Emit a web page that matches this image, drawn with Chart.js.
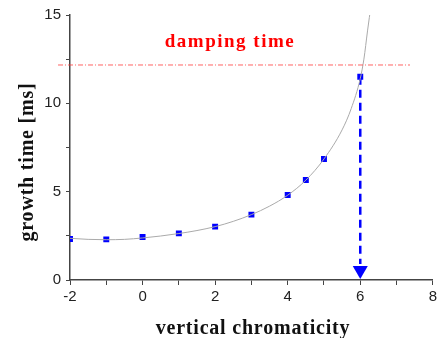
<!DOCTYPE html>
<html>
<head>
<meta charset="utf-8">
<script src="https://cdn.jsdelivr.net/npm/chart.js@4.4.1/dist/chart.umd.min.js"></script>
<style>
  html, body { margin:0; padding:0; background:#fff; }
  #wrap { width:440px; height:338px; position:relative; }
</style>
</head>
<body>
<div id="wrap"><canvas id="c"></canvas></div>
<script>
/* measured points */
const chromaticity = [-2, -1, 0, 1, 2, 3, 4, 4.5, 5, 6];
const growthTime   = [2.32, 2.30, 2.43, 2.64, 3.02, 3.70, 4.81, 5.66, 6.85, 11.5];

/* fit curve */
const fitX = [-2, -1.5, -1, -0.5, 0, 0.5, 1, 1.5, 2, 2.5, 3, 3.5, 4, 4.5, 5, 5.5, 5.75, 6, 6.1, 6.2, 6.3];
const fitY = [2.36, 2.30, 2.28, 2.30, 2.38, 2.49, 2.63, 2.80, 3.02, 3.32, 3.70, 4.18, 4.80, 5.65, 6.85, 8.5, 9.7, 11.4, 12.5, 14.1, 15.6];

/* damping time level and arrow */
const dampX = [-2.33, 7.37];
const dampLevel = 12.17;
const arrowX = 6;
const arrowY = [11.5, 0.9];
const arrowHeadY = 0.55;

const xTicks = [-2, 0, 2, 4, 6, 8];
const yTicks = [0, 5, 10, 15];

const SERIF = "'Liberation Serif', 'Times New Roman', serif";
const SANS = "'Liberation Sans', Arial, sans-serif";
const AXIS = "#444";

const pts = (xs, ys) => xs.map((x, i) => ({ x, y: ys[i] }));

// titles drawn by hand (letter spacing)
const titles = {
  id: "titles",
  afterDraw(chart) {
    const ctx = chart.ctx;
    ctx.save();
    ctx.textAlign = "center";
    ctx.textBaseline = "alphabetic";

    ctx.fillStyle = "#ff0000";
    ctx.font = "bold 19px " + SERIF;
    ctx.letterSpacing = "1.5px";
    ctx.fillText("damping time", 230, 47);

    ctx.fillStyle = "#111";
    ctx.font = "bold 20px " + SERIF;
    ctx.letterSpacing = "0.8px";
    ctx.fillText("vertical chromaticity", 253, 334);

    ctx.translate(33, 162);
    ctx.rotate(-Math.PI / 2);
    ctx.fillText("growth time [ms]", 0, 0);
    ctx.restore();
  }
};

new Chart(document.getElementById("c"), {
  type: "scatter",
  data: {
    datasets: [
      {
        label: "damping",
        data: pts(dampX, dampX.map(() => dampLevel)),
        showLine: true,
        borderColor: "rgba(255,60,60,0.8)",
        borderWidth: 1,
        borderDash: [5, 2, 1, 2],
        pointRadius: 0,
        clip: false
      },
      {
        label: "fit",
        data: pts(fitX, fitY),
        showLine: true,
        borderColor: "#aaaaaa",
        borderWidth: 1,
        cubicInterpolationMode: "monotone",
        pointRadius: 0
      },
      {
        label: "arrow",
        data: pts([arrowX, arrowX], arrowY),
        showLine: true,
        borderColor: "#0000ff",
        borderWidth: 2.5,
        borderDash: [8, 5],
        pointRadius: 0
      },
      {
        label: "head",
        data: [{ x: arrowX, y: arrowHeadY }],
        pointStyle: "triangle",
        rotation: 180,
        pointRadius: 8.7,
        backgroundColor: "#0000ff",
        borderColor: "#0000ff",
        borderWidth: 0
      },
      {
        label: "growth time",
        data: pts(chromaticity, growthTime),
        pointStyle: "rect",
        pointRadius: 4.2,
        backgroundColor: "#0000ff",
        borderColor: "#0000ff",
        borderWidth: 0
      }
    ]
  },
  options: {
    responsive: true,
    maintainAspectRatio: false,
    animation: false,
    layout: { autoPadding: false, padding: { top: 15, right: 2, left: 0, bottom: 0 } },
    plugins: { legend: { display: false }, tooltip: { enabled: false } },
    scales: {
      x: {
        type: "linear",
        min: -2, max: 8,
        afterFit: s => { s.height = 58; },
        border: { color: AXIS, width: 1.5 },
        grid: { drawOnChartArea: false, drawTicks: true, tickLength: 5, tickColor: AXIS },
        ticks: {
          stepSize: 1,
          padding: 3,
          color: "#222",
          font: { family: SANS, size: 15 },
          maxRotation: 0,
          callback: v => xTicks.includes(v) ? String(v) : ""
        }
      },
      y: {
        type: "linear",
        min: 0, max: 15,
        afterFit: s => { s.width = 70; },
        border: { color: AXIS, width: 1.5 },
        grid: { drawOnChartArea: false, drawTicks: true, tickLength: 4, tickColor: AXIS },
        ticks: {
          stepSize: 2.5,
          padding: 5,
          color: "#222",
          font: { family: SANS, size: 15 },
          callback: v => yTicks.includes(v) ? String(v) : ""
        }
      }
    }
  },
  plugins: [titles]
});
</script>
</body>
</html>
